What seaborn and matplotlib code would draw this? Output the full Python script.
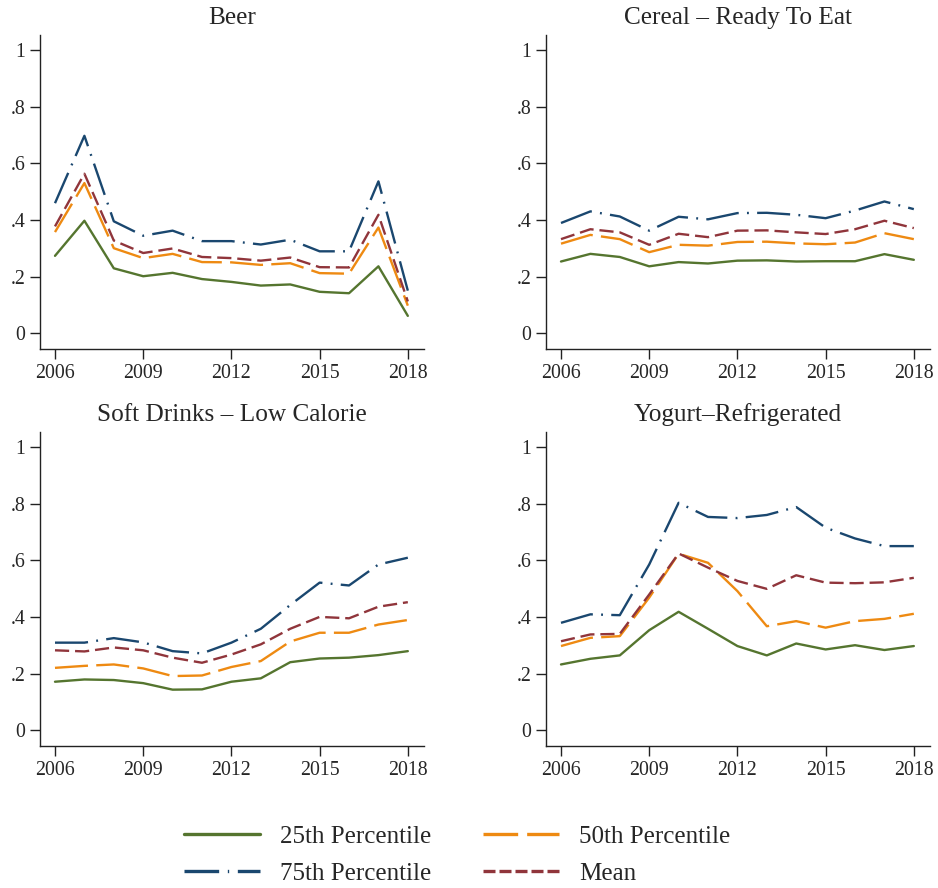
import numpy as np
import pandas as pd
import matplotlib
matplotlib.use("Agg")
import matplotlib.pyplot as plt
import seaborn as sns
from matplotlib.lines import Line2D

years = list(range(2006, 2019))
series_names = ["25th Percentile", "50th Percentile", "75th Percentile", "Mean"]
panels = ["Beer", "Cereal – Ready To Eat", "Soft Drinks – Low Calorie", "Yogurt–Refrigerated"]

beer_p25 = [0.273, 0.397, 0.229, 0.201, 0.213, 0.191, 0.181, 0.168, 0.172, 0.146, 0.141, 0.236, 0.061]
beer_p50 = [0.357, 0.530, 0.300, 0.265, 0.280, 0.251, 0.250, 0.241, 0.247, 0.212, 0.210, 0.373, 0.097]
beer_p75 = [0.459, 0.697, 0.395, 0.344, 0.362, 0.325, 0.325, 0.313, 0.330, 0.289, 0.289, 0.536, 0.150]
beer_mean = [0.377, 0.563, 0.327, 0.283, 0.299, 0.269, 0.265, 0.256, 0.267, 0.233, 0.232, 0.418, 0.112]

cereal_p25 = [0.253, 0.280, 0.269, 0.236, 0.251, 0.246, 0.256, 0.257, 0.253, 0.254, 0.254, 0.279, 0.259]
cereal_p50 = [0.316, 0.347, 0.332, 0.286, 0.312, 0.309, 0.322, 0.323, 0.317, 0.314, 0.320, 0.353, 0.332]
cereal_p75 = [0.389, 0.430, 0.412, 0.362, 0.411, 0.402, 0.424, 0.425, 0.418, 0.406, 0.433, 0.465, 0.438]
cereal_mean = [0.332, 0.367, 0.356, 0.312, 0.351, 0.339, 0.362, 0.363, 0.356, 0.350, 0.367, 0.397, 0.371]

soft_p25 = [0.171, 0.179, 0.177, 0.166, 0.143, 0.144, 0.171, 0.183, 0.240, 0.253, 0.256, 0.265, 0.279]
soft_p50 = [0.220, 0.227, 0.232, 0.218, 0.191, 0.193, 0.223, 0.244, 0.313, 0.344, 0.344, 0.373, 0.389]
soft_p75 = [0.309, 0.309, 0.325, 0.310, 0.279, 0.271, 0.309, 0.358, 0.442, 0.521, 0.511, 0.585, 0.609]
soft_mean = [0.282, 0.278, 0.292, 0.282, 0.256, 0.238, 0.267, 0.303, 0.358, 0.400, 0.395, 0.436, 0.452]

yog_p25 = [0.232, 0.252, 0.264, 0.353, 0.418, 0.358, 0.297, 0.264, 0.306, 0.285, 0.300, 0.283, 0.297]
yog_p50 = [0.297, 0.326, 0.332, 0.468, 0.623, 0.591, 0.491, 0.367, 0.385, 0.362, 0.385, 0.393, 0.411]
yog_p75 = [0.379, 0.409, 0.406, 0.585, 0.803, 0.753, 0.749, 0.760, 0.788, 0.715, 0.677, 0.650, 0.650]
yog_mean = [0.314, 0.338, 0.340, 0.479, 0.624, 0.574, 0.527, 0.499, 0.547, 0.521, 0.519, 0.522, 0.538]

panel_data = {
    panels[0]: [beer_p25, beer_p50, beer_p75, beer_mean],
    panels[1]: [cereal_p25, cereal_p50, cereal_p75, cereal_mean],
    panels[2]: [soft_p25, soft_p50, soft_p75, soft_mean],
    panels[3]: [yog_p25, yog_p50, yog_p75, yog_mean],
}

ytick_vals = [0, 0.2, 0.4, 0.6, 0.8, 1.0]
ytick_labels = ["0", ".2", ".4", ".6", ".8", "1"]
xtick_vals = [2006, 2009, 2012, 2015, 2018]

rows = []
for p in panels:
    for s, vals in zip(series_names, panel_data[p]):
        for y, v in zip(years, vals):
            rows.append({"panel": p, "series": s, "year": y, "value": v})
df = pd.DataFrame(rows)

sns.set_theme(style="white")
plt.rcParams["font.family"] = ["Liberation Serif", "DejaVu Serif"]

palette = {
    "25th Percentile": "#55752F",
    "50th Percentile": "#EE8A12",
    "75th Percentile": "#1A476F",
    "Mean": "#90353B",
}
dashes = {
    "25th Percentile": "",
    "50th Percentile": (14, 3.5),
    "75th Percentile": (14, 3.5, 0.8, 3.5),
    "Mean": (6, 2.5),
}
legend_dashes = {
    "25th Percentile": None,
    "50th Percentile": (10.4, 2.7),
    "75th Percentile": (10.4, 2.6, 0.4, 2.6),
    "Mean": (3.6, 1.2),
}

fig = plt.figure(figsize=(9.38, 8.88), dpi=100)
W, H = 938, 888
boxes = [(40, 35), (546, 35), (40, 432), (546, 432)]
axes = []
for (l, t) in boxes:
    ax = fig.add_axes([l / W, 1 - (t + 314) / H, 384 / W, 314 / H])
    axes.append(ax)

for ax, p in zip(axes, panels):
    sub = df[df["panel"] == p]
    sns.lineplot(data=sub, x="year", y="value", hue="series", style="series",
                 palette=palette, dashes=dashes, linewidth=1.7, ax=ax,
                 legend=False, hue_order=series_names, style_order=series_names)
    ax.set_xlim(2005.49, 2018.55)
    ax.set_ylim(-0.056, 1.053)
    ax.set_xticks(xtick_vals)
    ax.set_xticklabels([str(x) for x in xtick_vals])
    ax.set_yticks(ytick_vals)
    ax.set_yticklabels(ytick_labels)
    ax.set_xlabel("")
    ax.set_ylabel("")
    ax.set_title(p, fontsize=18.2, pad=8)
    for side in ["top", "right"]:
        ax.spines[side].set_visible(False)
    for side in ["left", "bottom"]:
        ax.spines[side].set_color("#222222")
        ax.spines[side].set_linewidth(1.0)
    ax.tick_params(axis="both", which="major", direction="out", length=7,
                   width=1.0, color="#222222", labelsize=14.3, pad=3.5,
                   left=True, bottom=True)

handles = []
for s in series_names:
    d = legend_dashes[s]
    h = Line2D([0], [0], color=palette[s], linewidth=2.4)
    if d:
        h.set_dashes(d)
    handles.append(h)
order = [0, 2, 1, 3]
fig.legend([handles[i] for i in order], [series_names[i] for i in order],
           ncol=2, loc="center", bbox_to_anchor=(457 / W, 1 - 855 / H),
           frameon=False, fontsize=18, handlelength=3.05, handletextpad=0.8,
           columnspacing=2.08, labelspacing=0.6, borderpad=0.2)

fig.savefig("out.png", dpi=100)
